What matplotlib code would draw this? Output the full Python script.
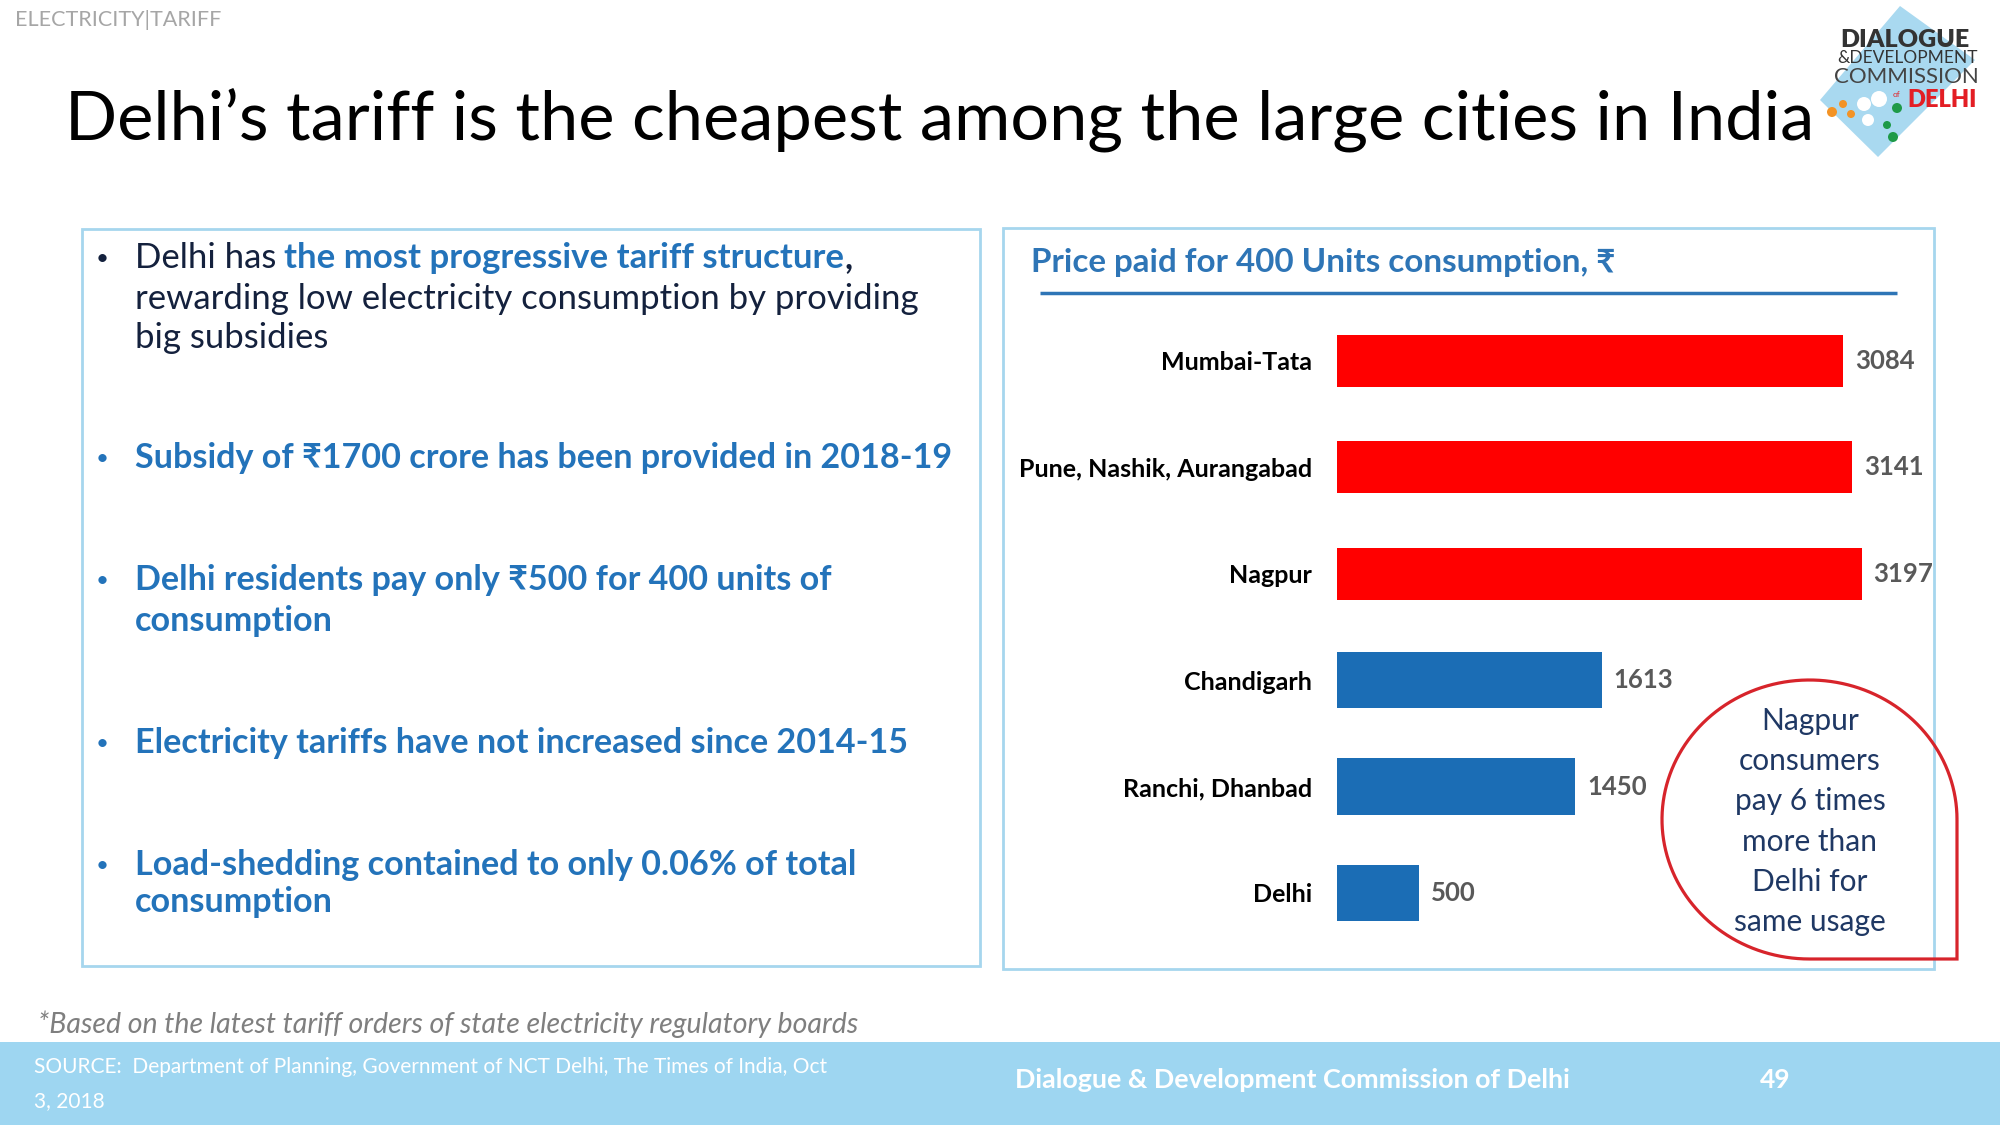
import matplotlib.pyplot as plt
import numpy as np
from matplotlib.patches import Rectangle, Polygon, Circle, PathPatch
from matplotlib.path import Path

plt.rcParams['font.family'] = ['Lato', 'Noto Sans', 'DejaVu Sans']

# chart data
cities = ["Mumbai-Tata", "Pune, Nashik, Aurangabad", "Nagpur",
          "Chandigarh", "Ranchi, Dhanbad", "Delhi"]
price = [3084, 3141, 3197, 1613, 1450, 500]
bar_colors = ["#FF0000", "#FF0000", "#FF0000", "#1B6DB5", "#1B6DB5", "#1B6DB5"]
bar_heights = [0.49, 0.49, 0.49, 0.53, 0.53, 0.53]

callout = ["Nagpur", "consumers", "pay 6 times", "more than", "Delhi for", "same usage"]

NAVY = "#14213D"
BLUE = "#2373BA"
W, H = 2000, 1125

fig = plt.figure(figsize=(20, 11.25), dpi=100)
bg = fig.add_axes([0, 0, 1, 1])
bg.set_xlim(0, W)
bg.set_ylim(H, 0)
bg.axis("off")

# header
bg.text(15, 26, "ELECTRICITY|TARIFF", fontsize=15.5, color="#A6A6A6", va="baseline")
bg.text(65, 139, "Delhi\u2019s tariff is the cheapest among the large cities in India",
        fontsize=49.3, color="black", va="baseline")

# logo (rough)
bg.add_patch(Polygon([(1900, 6), (1975, 60), (1878, 157), (1820, 100)],
                     closed=True, color="#A9D9F0", lw=0))
for (cx, cy, r, c) in [(1832, 112, 5, "#F39325"), (1843, 104, 4, "#F39325"),
                       (1851, 114, 4, "#F39325"), (1864, 104, 7, "white"),
                       (1879, 99, 8, "white"), (1868, 120, 6, "white"),
                       (1897, 108, 5, "#1E9A48"), (1887, 125, 4, "#1E9A48"),
                       (1893, 137, 5, "#1E9A48")]:
    bg.add_patch(Circle((cx, cy), r, color=c, lw=0))
bg.text(1905, 47, "DIALOGUE", fontsize=18, fontweight="heavy", color="#333333",
        ha="center", va="baseline")
bg.text(1908, 63, "&DEVELOPMENT", fontsize=12.5, color="#333333", ha="center", va="baseline")
bg.text(1906, 83, "COMMISSION", fontsize=16, color="#444444",
        ha="center", va="baseline")
bg.text(1893, 97, "of", fontsize=6, color="#E31E24", ha="left", va="baseline")
bg.text(1977, 107, "DELHI", fontsize=17, fontweight="heavy", color="#E31E24",
        ha="right", va="baseline")

# panels
bg.add_patch(Rectangle((82, 229), 898, 737, fill=False, ec="#A6D6EE", lw=2))
bg.add_patch(Rectangle((1003, 228), 931, 741, fill=False, ec="#A6D6EE", lw=2))


def runs(x, y, parts, size):
    t = bg.text(x, y, parts[0][0], color=parts[0][1], fontweight=parts[0][2],
                fontsize=size, va="baseline")
    for s, c, w, gap in parts[1:]:
        t = bg.annotate(s, xy=(1, 0), xycoords=t, xytext=(gap, 0),
                        textcoords="offset points", color=c, fontweight=w,
                        fontsize=size, va="bottom")
    return t


BS = 25
BB = 24.6
# bullet markers
for yb, c in [(268, NAVY), (468, BLUE), (590, BLUE), (753, BLUE), (875, BLUE)]:
    bg.text(102, yb - 9, "\u2022", fontsize=16, color=c, ha="center", va="center")

runs(135, 268, [("Delhi has", NAVY, "normal"),
                ("the most progressive tariff structure", BLUE, "bold", 5.5),
                (",", NAVY, "bold", 0)], BS)
bg.text(135, 309, "rewarding low electricity consumption by providing", fontsize=BS,
        color=NAVY, va="baseline")
bg.text(135, 348, "big subsidies", fontsize=BS, color=NAVY, va="baseline")

blue_lines = [(468, "Subsidy of \u20b91700 crore has been provided in 2018-19"),
              (590, "Delhi residents pay only \u20b9500 for 400 units of"),
              (631, "consumption"),
              (753, "Electricity tariffs have not increased since 2014-15"),
              (875, "Load-shedding contained to only 0.06% of total"),
              (912, "consumption")]
for yb, s in blue_lines:
    bg.text(135, yb, s, fontsize=BB, fontweight="bold", color=BLUE, va="baseline")

# chart title and rule
bg.text(1031, 272, "Price paid for 400 Units consumption, \u20b9", fontsize=23.9,
        fontweight="bold", color="#2E75B6", va="baseline")
bg.plot([1040, 1897], [293, 293], color="#2E75B6", lw=2.5, solid_capstyle="butt")

# bar chart
ax = fig.add_axes([1337 / W, 1 - 946.2 / H, 563 / W, (946.2 - 307.8) / H])
ax.set_facecolor("none")
pos = np.arange(len(cities))
bars = ax.barh(pos, price, height=bar_heights, color=bar_colors)
ax.set_ylim(len(cities) - 0.5, -0.5)
ax.set_xlim(0, 563 / 0.1641)
ax.set_yticks(pos, cities, fontsize=18, fontweight="bold")
ax.set_xticks([])
ax.tick_params(axis="y", length=0, pad=18)
for sp in ax.spines.values():
    sp.set_visible(False)
ax.bar_label(bars, labels=[str(v) for v in price], padding=8.6, fontsize=18.5,
             fontweight="bold", color="#595959")

# callout shape
cx, cy, rx, ry = 1809.5, 819.5, 147.5, 139.5
t = np.linspace(0, 1.5 * np.pi, 120)
pts = np.column_stack([cx + rx * np.cos(t), cy - ry * np.sin(t)])
pts = np.vstack([pts, [cx + rx, cy + ry], pts[:1]])
bg.add_patch(PathPatch(Path(pts), fill=False, ec="#D7242B", lw=2.3, zorder=5))
for i, s in enumerate(callout):
    bg.text(1810, 730 + 40.2 * i, s, fontsize=21.5, color="#1F3864",
            ha="center", va="baseline")

# footnote and footer
bg.text(38, 1033, "*Based on the latest tariff orders of state electricity regulatory boards",
        fontsize=20.5, style="italic", color="#7F7F7F", va="baseline")
bg.add_patch(Rectangle((0, 1042), W, H - 1042, color="#9ED6F1", lw=0))
bg.text(34, 1073, "SOURCE:  Department of Planning, Government of NCT Delhi, The Times of India, Oct",
        fontsize=15, color="white", va="baseline")
bg.text(34, 1107, "3, 2018", fontsize=15, color="white", va="baseline")
bg.text(1015, 1088, "Dialogue & Development Commission of Delhi", fontsize=19.4,
        fontweight="bold", color="white", va="baseline")
bg.text(1760, 1088, "49", fontsize=19, fontweight="bold", color="white", va="baseline")

fig.savefig("out.png", dpi=100)
